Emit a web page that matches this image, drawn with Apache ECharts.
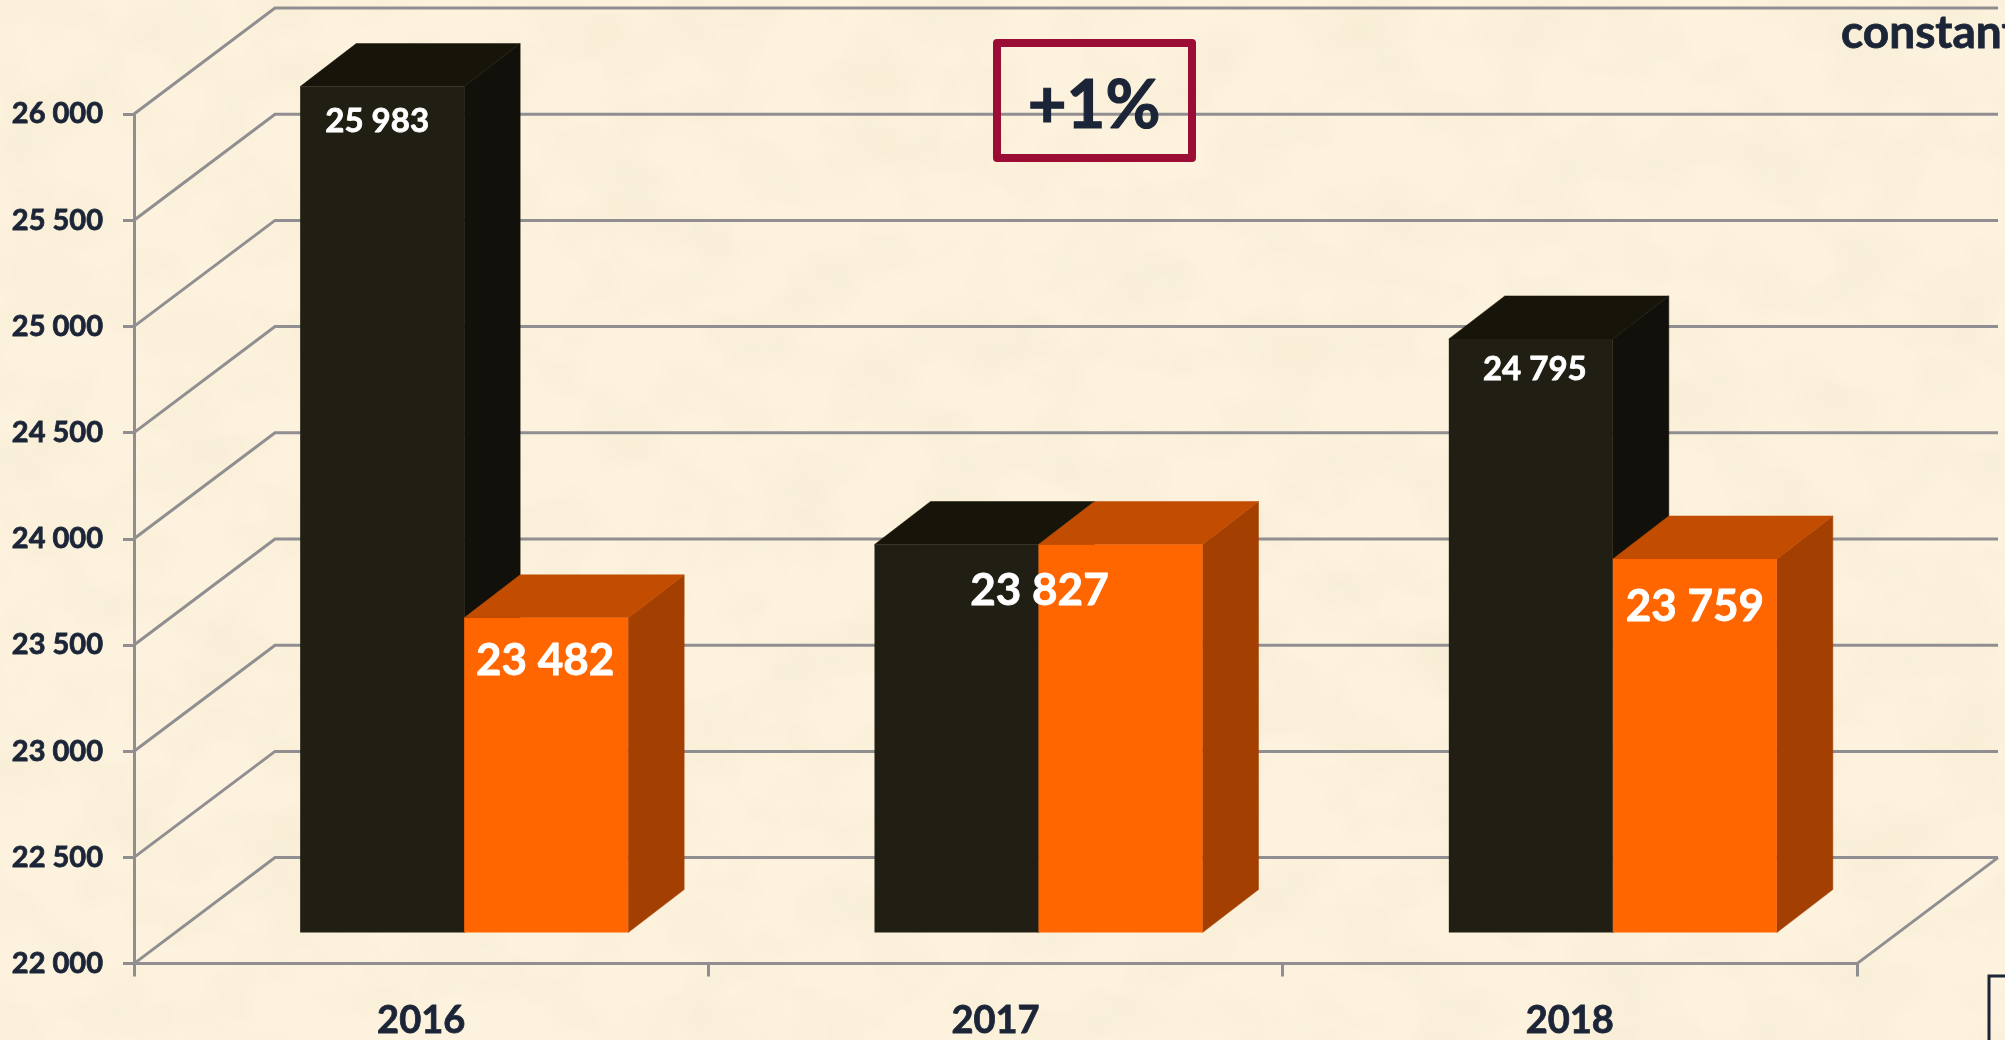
<!DOCTYPE html>
<html>
<head>
<meta charset="utf-8">
<style>
html,body{margin:0;padding:0;width:2005px;height:1040px;overflow:hidden;background-color:#FCF2DD;}
#tex{position:absolute;left:0;top:0;width:2005px;height:1040px;}
#c{position:absolute;left:0;top:0;width:2005px;height:1040px;}
</style>
<script src="https://cdn.jsdelivr.net/npm/echarts@6/dist/echarts.min.js"></script>
</head>
<body>
<svg id="tex" xmlns="http://www.w3.org/2000/svg">
  <filter id="mottle" x="0" y="0" width="100%" height="100%">
    <feTurbulence type="fractalNoise" baseFrequency="0.012 0.016" numOctaves="3" seed="7"/>
    <feColorMatrix type="matrix" values="0 0 0 0 0.90  0 0 0 0 0.82  0 0 0 0 0.62  0.9 0 0 0 -0.36"/>
  </filter>
  <rect width="2005" height="1040" filter="url(#mottle)"/>
</svg>
<div id="c"></div>
<script>
const categories = ['2016', '2017', '2018'];
const blackValues = [25983, 23827, 24795];
const orangeValues = [23482, 23827, 23759];
const blackLabelled = [true, false, true];
const yTicks = [22000, 22500, 23000, 23500, 24000, 24500, 25000, 25500, 26000];
const changeText = '+1%';
const cornerText = 'constant';

const FONT = 'Lato, Carlito, "Open Sans", sans-serif';
const INK = '#1B2537';
const GRID = '#918E92';
const BLACK = {front:'#211E13', side:'#12100A', top:'#171409'};
const ORANGE = {front:'#FF6600', side:'#A33F00', top:'#C24C00'};
const WALL = {dx:141, dy:-106};
const BAR = {width:164, shift:43, lift:31, dx:56, dy:-43};
const NUDGE_BLACK = [[-6, 4], [0, 0], [3, -1]];
const NUDGE_ORANGE = [[-1, 0], [1, 3], [0, 5]];

const fmt = v => String(v).replace(/\B(?=(\d{3})+$)/g, ' ');

function wallItem(params, api) {
  const v = api.value(0);
  const y = api.coord([0, v])[1];
  const left = params.coordSys.x;
  const right = left + params.coordSys.width;
  const line = {stroke: GRID, lineWidth: 3, fill: null, lineJoin:'miter'};
  const children = [{
    type: 'polyline',
    shape: {points: [[left, y], [left + WALL.dx, y + WALL.dy], [right + WALL.dx, y + WALL.dy]]},
    style: line
  }];
  if (v === yTicks[0]) {
    children.push({
      type: 'line',
      shape: {x1: right, y1: y, x2: right + WALL.dx, y2: y + WALL.dy},
      style: line
    });
  }
  return {type: 'group', children};
}

function barItem(side, colors) {
  return function (params, api) {
    const c = api.coord([api.value(0), api.value(1)]);
    const base = api.coord([api.value(0), yTicks[0]])[1] - BAR.lift;
    const centre = c[0] + BAR.shift;
    const x0 = side < 0 ? centre - BAR.width : centre;
    const x1 = x0 + BAR.width;
    const top = c[1] - BAR.lift;
    const dx = BAR.dx, dy = BAR.dy;
    return {type: 'group', children: [
      {type:'polygon', shape:{points:[[x1,top],[x1+dx,top+dy],[x1+dx,base+dy],[x1,base]]}, style:{fill:colors.side, stroke:colors.side, lineWidth:0.5}},
      {type:'polygon', shape:{points:[[x0,top],[x0+dx,top+dy],[x1+dx,top+dy],[x1,top]]}, style:{fill:colors.top, stroke:colors.top, lineWidth:0.5}},
      {type:'rect', shape:{x:x0, y:top, width:BAR.width, height:base-top}, style:{fill:colors.front}}
    ]};
  };
}

function labelItem(params, api) {
  const idx = api.value(0);
  const c = api.coord([idx, api.value(1)]);
  const kind = api.value(2);
  const top = c[1] - BAR.lift;
  const centre = c[0] + BAR.shift;
  let x, y, size, n;
  if (kind === 0) { x = centre - BAR.width / 2 + 1; y = top + 31; size = 33; n = NUDGE_BLACK[idx]; }
  else if (kind === 1) { x = centre + BAR.width / 2; y = top + 43; size = 44; n = NUDGE_ORANGE[idx]; }
  else { x = centre; y = top + 43; size = 44; n = NUDGE_ORANGE[idx]; }
  return {type:'text', style:{
    text: fmt(api.value(1)), x: x + n[0], y: y + n[1], align:'center', verticalAlign:'middle',
    fill:'#FFFFFF', stroke:'#FFFFFF', lineWidth:0.8, font: '700 ' + size + 'px ' + FONT
  }};
}

const blackLabels = blackValues.map((v, i) => blackLabelled[i] ? [i, v, 0] : null).filter(Boolean);
const orangeLabels = orangeValues.map((v, i) => [i, v, blackLabelled[i] ? 1 : 2]);

const chart = echarts.init(document.getElementById('c'), null, {renderer:'canvas'});
chart.setOption({
  backgroundColor: 'transparent',
  animation: false,
  grid: {left: 134, top: 114, width: 1723, height: 850.5, containLabel: false},
  xAxis: {
    type: 'category', data: categories, boundaryGap: true,
    axisLine: {lineStyle: {color: GRID, width: 3}},
    axisTick: {show: true, length: 13, lineStyle: {color: GRID, width: 3}},
    axisLabel: {color: INK, fontFamily: FONT, fontWeight: 700, fontSize: 38, margin: 38, textBorderColor: INK, textBorderWidth: 0.8},
    splitLine: {show: false}
  },
  yAxis: {
    type: 'value', min: 22000, max: 26000, interval: 500,
    axisLine: {show: true, lineStyle: {color: GRID, width: 3}},
    axisTick: {show: true, length: 11, lineStyle: {color: GRID, width: 3}},
    axisLabel: {color: INK, fontFamily: FONT, fontWeight: 700, fontSize: 29, margin: 31, padding: [6, 0, 0, 0], textBorderColor: INK, textBorderWidth: 0.8, formatter: fmt},
    splitLine: {show: false}
  },
  series: [
    {type:'custom', name:'Wall', coordinateSystem:'cartesian2d', clip:false, silent:true, z:1,
     data: yTicks.map(v => [v]), encode:{y:0}, renderItem: wallItem},
    {type:'custom', name:'Black', coordinateSystem:'cartesian2d', clip:false, silent:true, z:2,
     data: blackValues.map((v, i) => [i, v]), encode:{x:0, y:1}, renderItem: barItem(-1, BLACK)},
    {type:'custom', name:'Orange', coordinateSystem:'cartesian2d', clip:false, silent:true, z:3,
     data: orangeValues.map((v, i) => [i, v]), encode:{x:0, y:1}, renderItem: barItem(1, ORANGE)},
    {type:'custom', name:'Labels', coordinateSystem:'cartesian2d', clip:false, silent:true, z:4,
     data: blackLabels.concat(orangeLabels), encode:{x:0, y:1}, renderItem: labelItem}
  ],
  graphic: [
    {type:'rect', z:10, silent:true, shape:{x:997, y:43, width:195, height:115},
     style:{fill:null, stroke:'#9B0D35', lineWidth:8, lineJoin:'round'}},
    {type:'text', z:10, silent:true, style:{text:changeText, x:1094, y:106, align:'center', verticalAlign:'middle',
      fill:INK, stroke:INK, lineWidth:1.2, font:'700 67px ' + FONT}},
    {type:'text', z:10, silent:true, style:{text:cornerText, x:1841, y:33, align:'left', verticalAlign:'middle',
      fill:INK, stroke:INK, lineWidth:0.8, font:'700 46px ' + FONT}},
    {type:'rect', z:10, silent:true, shape:{x:1989, y:976, width:40, height:90},
     style:{fill:null, stroke:INK, lineWidth:3}}
  ]
});
</script>
</body>
</html>
